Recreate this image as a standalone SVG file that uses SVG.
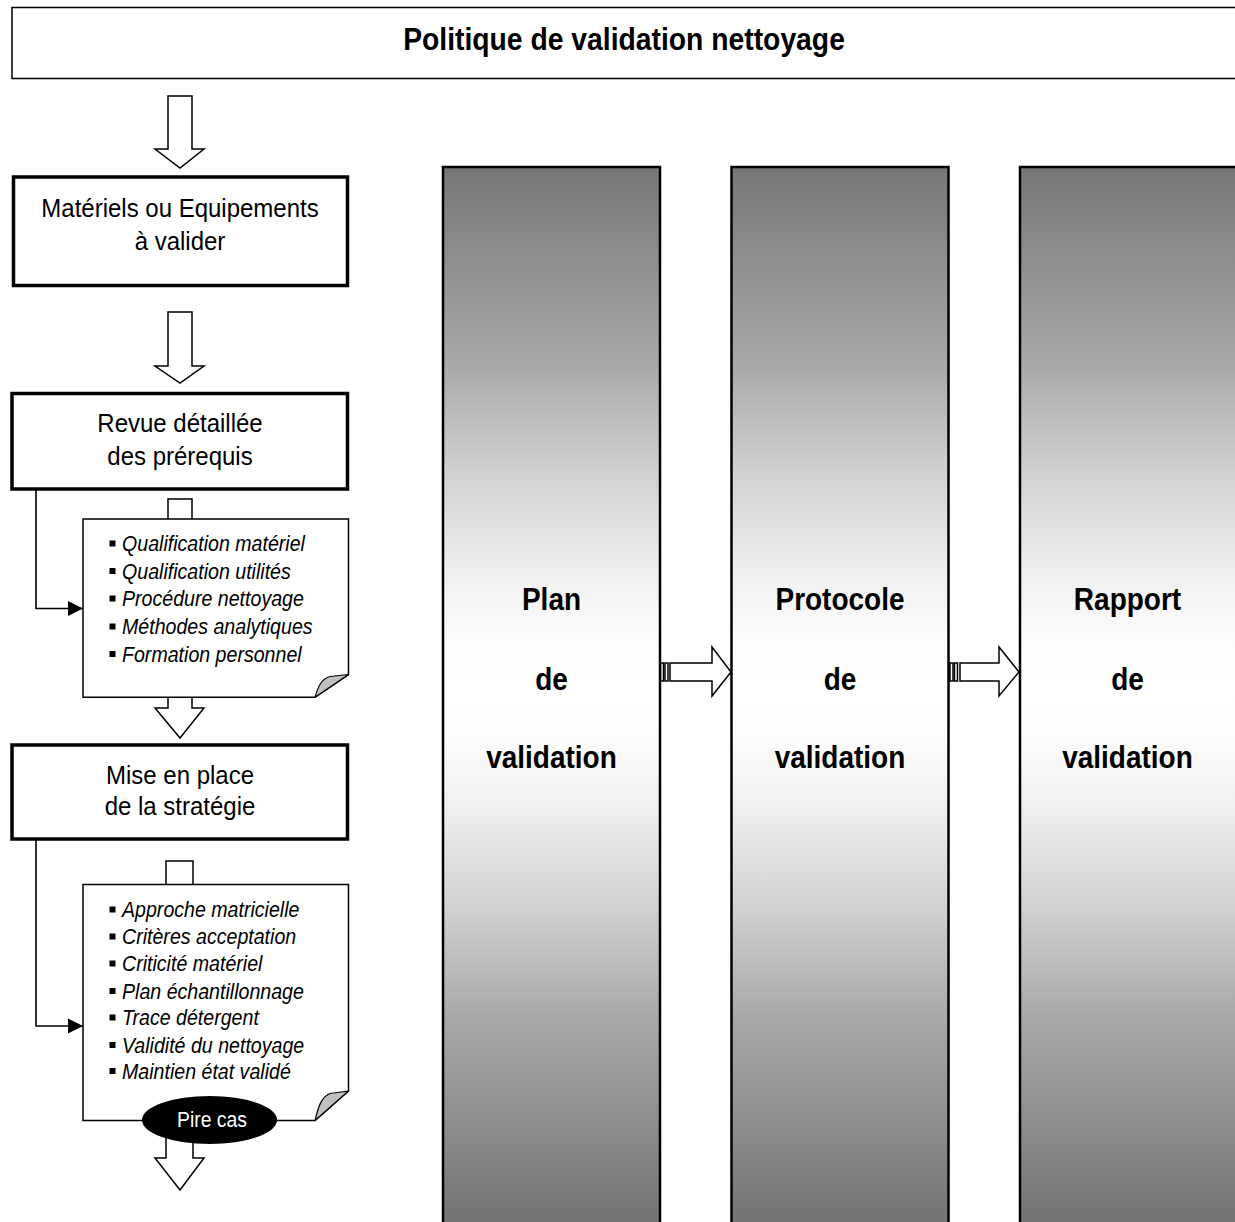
<svg xmlns="http://www.w3.org/2000/svg" width="1235" height="1222" viewBox="0 0 1235 1222">
<style>
  .box{fill:#fff;stroke:#000;stroke-width:3.5}
  .thin{fill:#fff;stroke:#000;stroke-width:1.5;stroke-linejoin:miter}
  .col{fill:url(#g);stroke:#000;stroke-width:2.5}
  .fold{fill:#c0c0c0;stroke:#000;stroke-width:1.2;stroke-linejoin:round}
  .line{fill:none;stroke:#000;stroke-width:1.6}
  .t{font-family:"Liberation Sans",Arial,sans-serif;font-size:24px;fill:#000;text-anchor:middle}
  .title{font-family:"Liberation Sans",Arial,sans-serif;font-size:28.3px;font-weight:bold;fill:#000;text-anchor:middle}
  .ct{font-family:"Liberation Sans",Arial,sans-serif;font-size:28px;font-weight:bold;fill:#000;text-anchor:middle}
  .li{font-family:"Liberation Sans",Arial,sans-serif;font-size:19.6px;font-style:italic;fill:#000}
  .pc{font-family:"Liberation Sans",Arial,sans-serif;font-size:19.4px;fill:#fff;text-anchor:middle}
</style>
<defs>
  <linearGradient id="g" gradientUnits="userSpaceOnUse" x1="0" y1="167" x2="0" y2="1213">
    <stop offset="0" stop-color="#767676"/>
    <stop offset="0.19" stop-color="#a9a9a9"/>
    <stop offset="0.29" stop-color="#d0d0d0"/>
    <stop offset="0.39" stop-color="#f0f0f0"/>
    <stop offset="0.45" stop-color="#fcfcfc"/>
    <stop offset="0.5" stop-color="#ffffff"/>
    <stop offset="0.55" stop-color="#fcfcfc"/>
    <stop offset="0.61" stop-color="#f0f0f0"/>
    <stop offset="0.71" stop-color="#d0d0d0"/>
    <stop offset="0.81" stop-color="#a9a9a9"/>
    <stop offset="1" stop-color="#767676"/>
  </linearGradient>
  <marker id="ah" markerWidth="16" markerHeight="15" refX="15" refY="7.5" orient="auto" markerUnits="userSpaceOnUse">
    <path d="M0,0 L15,7.5 L0,15 Z" fill="#000"/>
  </marker>
</defs>

<g id="title">
  <rect x="12" y="7.5" width="1240" height="71" class="thin"/>
  <text transform="translate(624,50) scale(1,1.13)" class="title">Politique de validation nettoyage</text>
</g>

<g id="connectors">
  <path class="thin" d="M168,96 H192 V149 H204 L180,168 L155,149 H168 Z"/>
  <path class="thin" d="M168,312 H192 V366 H204 L180,383 L155,366 H168 Z"/>
  <path class="thin" d="M168,499 H192 V708 H204 L180,738 L155,708 H168 Z"/>
  <path class="thin" d="M166,861 H193 V1158 H204 L180,1190 L155,1158 H166 Z"/>
  <path class="line" d="M36,490 V608.5 H83" marker-end="url(#ah)"/>
  <path class="line" d="M36,840 V1026 H83" marker-end="url(#ah)"/>
  <g id="arrow-plan-protocole">
    <rect x="660.5" y="663" width="3" height="18" class="thin"/>
    <rect x="665" y="663" width="3" height="18" class="thin"/>
    <path class="thin" d="M670,663 H712 V647 L731,672 L712,696 V681 H670 Z"/>
  </g>
  <g id="arrow-protocole-rapport">
    <rect x="950" y="663" width="3" height="18" class="thin"/>
    <rect x="954.5" y="663" width="3" height="18" class="thin"/>
    <path class="thin" d="M960,663 H999 V647 L1019,672 L999,696 V681 H960 Z"/>
  </g>
</g>

<g id="materiels">
  <rect x="13.5" y="177" width="334" height="108.5" class="box"/>
  <text transform="translate(180,217) scale(1,1.07)" class="t">Matériels ou Equipements</text>
  <text transform="translate(180,250) scale(1,1.07)" class="t">à valider</text>
</g>

<g id="revue">
  <rect x="12" y="393.5" width="335.5" height="95.5" class="box"/>
  <text transform="translate(180,431.5) scale(1,1.07)" class="t">Revue détaillée</text>
  <text transform="translate(180,465) scale(1,1.07)" class="t">des prérequis</text>
</g>

<g id="prerequis">
  <path class="thin" d="M83,519 H348.5 V674.5 L315,697.3 H83 Z"/>
  <path class="fold" d="M348.5,674.5 L315,697.3 C318,687 321,679 330,676.5 Z"/>
  <g fill="#000">
    <rect x="109.5" y="540.5" width="6" height="6"/>
    <rect x="109.5" y="568" width="6" height="6"/>
    <rect x="109.5" y="595.5" width="6" height="6"/>
    <rect x="109.5" y="623.5" width="6" height="6"/>
    <rect x="109.5" y="651" width="6" height="6"/>
  </g>
  <text transform="translate(122,551) scale(1,1.12)" class="li">Qualification matériel</text>
  <text transform="translate(122,578.5) scale(1,1.12)" class="li">Qualification utilités</text>
  <text transform="translate(122,606) scale(1,1.12)" class="li">Procédure nettoyage</text>
  <text transform="translate(122,634) scale(1,1.12)" class="li">Méthodes analytiques</text>
  <text transform="translate(122,661.5) scale(1,1.12)" class="li">Formation personnel</text>
</g>

<g id="strategie">
  <rect x="12" y="745" width="335.5" height="94" class="box"/>
  <text transform="translate(180,783.5) scale(1,1.07)" class="t">Mise en place</text>
  <text transform="translate(180,815) scale(1,1.07)" class="t">de la stratégie</text>
</g>

<g id="criteres">
  <path class="thin" d="M83,884.5 H348.5 V1091 L315,1120.5 H83 Z"/>
  <path class="fold" d="M348.5,1091 L315,1120.5 C318,1108 321,1097 330,1093.5 Z"/>
  <g fill="#000">
    <rect x="109.5" y="906.5" width="6" height="6"/>
    <rect x="109.5" y="933.5" width="6" height="6"/>
    <rect x="109.5" y="960.5" width="6" height="6"/>
    <rect x="109.5" y="988" width="6" height="6"/>
    <rect x="109.5" y="1014.5" width="6" height="6"/>
    <rect x="109.5" y="1042" width="6" height="6"/>
    <rect x="109.5" y="1068" width="6" height="6"/>
  </g>
  <text transform="translate(122,917) scale(1,1.12)" class="li">Approche matricielle</text>
  <text transform="translate(122,944) scale(1,1.12)" class="li">Critères acceptation</text>
  <text transform="translate(122,971) scale(1,1.12)" class="li">Criticité matériel</text>
  <text transform="translate(122,998.5) scale(1,1.12)" class="li">Plan échantillonnage</text>
  <text transform="translate(122,1025) scale(1,1.12)" class="li">Trace détergent</text>
  <text transform="translate(122,1052.5) scale(1,1.12)" class="li">Validité du nettoyage</text>
  <text transform="translate(122,1078.5) scale(1,1.12)" class="li">Maintien état validé</text>
</g>

<g id="pire-cas">
  <ellipse cx="209.5" cy="1120" rx="67.5" ry="24" fill="#000"/>
  <text transform="translate(212,1126.5) scale(1,1.15)" class="pc">Pire cas</text>
</g>

<g id="plan">
  <rect x="443" y="167" width="217" height="1080" class="col"/>
  <text transform="translate(551.5,609.5) scale(1,1.13)" class="ct">Plan</text>
  <text transform="translate(551.5,689.5) scale(1,1.13)" class="ct">de</text>
  <text transform="translate(551.5,767.5) scale(1,1.13)" class="ct">validation</text>
</g>

<g id="protocole">
  <rect x="731.5" y="167" width="217" height="1080" class="col"/>
  <text transform="translate(840,609.5) scale(1,1.13)" class="ct">Protocole</text>
  <text transform="translate(840,689.5) scale(1,1.13)" class="ct">de</text>
  <text transform="translate(840,767.5) scale(1,1.13)" class="ct">validation</text>
</g>

<g id="rapport">
  <rect x="1020" y="167" width="230" height="1080" class="col"/>
  <text transform="translate(1127.5,609.5) scale(1,1.13)" class="ct">Rapport</text>
  <text transform="translate(1127.5,689.5) scale(1,1.13)" class="ct">de</text>
  <text transform="translate(1127.5,767.5) scale(1,1.13)" class="ct">validation</text>
</g>
</svg>
